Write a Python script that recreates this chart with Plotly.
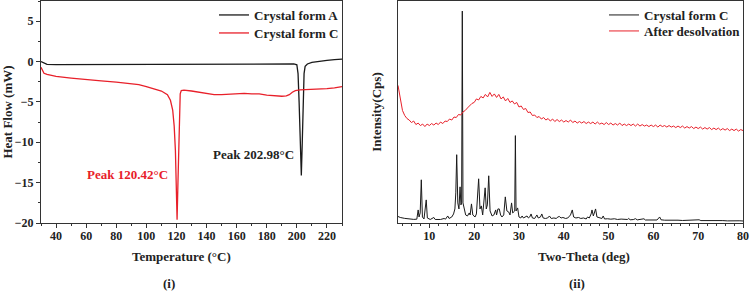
import plotly.graph_objects as go

# ---------------- DSC data (panel i) ----------------
dsc_temp_a = [30, 31, 32, 34, 40, 60, 80, 100, 130, 150, 170, 190, 198, 200, 200.8, 201.5, 202.2,
              202.98, 203.6, 204.2, 204.8, 205.5, 207, 210, 215, 220, 225, 230]
dsc_heat_a = [0.0, -0.1, -0.25, -0.35, -0.38, -0.38, -0.37, -0.35, -0.33, -0.3, -0.3, -0.3, -0.3, -0.4,
              -1.5, -5.0, -10.0, -14.1, -10.0, -5.0, -1.5, -0.6, -0.3, -0.1, 0.05, 0.15, 0.25, 0.3]

dsc_temp_c = [30, 31, 32, 34, 37, 40, 50, 60, 70, 80, 90, 95, 100, 105, 110, 114, 116, 117.5, 118.5,
              119.3, 119.9, 120.42, 121, 121.5, 122, 122.5, 123.2, 125, 130, 135, 140, 145, 150, 155,
              160, 165, 170, 175, 180, 185, 190, 193, 195, 197, 199, 202, 210, 220, 225, 230]
dsc_heat_c = [-0.7, -1.2, -1.45, -1.6, -1.75, -1.85, -2.05, -2.25, -2.4, -2.55, -2.7, -2.85, -3.1,
              -3.35, -3.65, -4.1, -4.8, -6.0, -8.0, -11.0, -15.0, -19.6, -15.0, -10.0, -6.0, -4.0,
              -3.6, -3.55, -3.65, -3.8, -4.0, -4.1, -4.1, -4.05, -3.95, -3.95, -4.0, -4.0, -4.15,
              -4.25, -4.3, -4.25, -4.1, -3.8, -3.6, -3.5, -3.45, -3.35, -3.25, -3.1]

# ---------------- XRD data (panel ii) ----------------
xrd_theta_c = [3.0, 3.5, 4.5, 5.5, 6.5, 7.2, 7.5, 7.7, 7.95, 8.2, 8.45, 8.8, 9.3, 9.55, 10.2, 11.0, 11.3,
               12.5, 13.3, 13.6, 14.1, 14.4, 15.0, 15.4, 15.7, 15.9, 16.1, 16.35, 16.6, 16.85, 17.05,
               17.2, 17.35, 17.5, 17.8, 18.1, 18.5, 18.9, 19.1, 19.4, 19.7, 20.2, 20.5, 20.8, 21.0,
               21.3, 21.6, 21.9, 22.2, 22.45, 22.7, 22.95, 23.25, 23.55, 24.0, 24.4, 24.8, 25.0, 25.3,
               25.6, 25.9, 26.2, 26.6, 26.95, 27.3, 27.7, 28.0, 28.35, 28.6, 28.9, 29.05, 29.2, 29.35,
               29.7, 30.0, 30.4, 30.7, 31.0, 31.4, 31.8, 32.1, 32.4, 32.7, 33.0, 33.5, 34.0, 34.3,
               34.8, 35.1, 35.4, 35.9, 36.4, 36.8, 37.2, 37.8, 38.3, 38.7, 39.0, 39.4, 39.8, 40.4,
               40.9, 41.5, 41.9, 42.2, 42.7, 43.3, 43.8, 44.4, 45.0, 45.3, 45.7, 46.1, 46.3, 46.6,
               46.9, 47.1, 47.4, 48.0, 48.5, 48.8, 49.1, 49.8, 50.5, 51.3, 52.0, 52.8, 53.5, 54.2,
               54.5, 54.8, 55.5, 56.0, 56.4, 57.0, 57.9, 58.2, 59.0, 60.0, 60.8, 61.4, 61.7, 62.5,
               63.5, 64.5, 65.5, 66.5, 67.5, 68.2, 69.0, 70.2, 70.6, 71.5, 72.5, 73.5, 74.5, 75.5,
               76.5, 77.5, 78.5, 79.3, 80.0]
xrd_int_c = [6.5, 5.5, 4.6, 4.0, 3.6, 3.8, 13, 6, 10, 43, 6, 4, 23, 5, 3.5, 5.5, 3.5,
             3.5, 4.5, 3.8, 7, 4.5, 6, 9, 14, 30, 68, 20, 14, 36, 18,
             20, 211, 20, 15, 8, 7, 10, 8, 19, 8, 6, 9, 30, 44,
             14, 17, 8, 20, 35, 14, 18, 47, 12, 7, 8, 13, 8, 14,
             14, 8, 6, 8, 26, 12, 11, 8, 20, 10, 12, 12, 87, 12,
             15, 6, 5, 7, 5, 6, 7, 5, 6, 9, 5, 4.5, 8, 5,
             6, 9, 5, 4.5, 5, 7, 4.5, 5, 4.5, 6, 6.5, 5, 5.5, 4.5,
             5, 8, 13, 6, 5, 5.5, 4.5, 5, 4, 6, 5, 9, 13, 7,
             12, 14, 6, 5, 4.5, 7, 4, 4.2, 3.8, 4.2, 3.5, 3.9, 3.4, 3.5,
             4.5, 3.2, 3.4, 4.3, 3.1, 3.3, 4.2, 3.0, 3.2, 2.8, 3.0, 6, 3.2, 2.8,
             3.0, 2.6, 2.8, 2.5, 2.7, 2.4, 2.6, 3.2, 2.4, 2.5, 2.3, 2.5, 2.2, 2.4,
             2.1, 2.3, 2.0, 2.2, 2.0]

xrd_theta_d = [3.0 + 0.5 * i for i in range(155)]
xrd_int_d = [137, 124, 112, 107, 104, 102.5, 100, 101.5, 98, 99.5, 97, 98.5, 96, 98.5, 97, 99,
             97.5, 99.5, 98, 100.5, 99, 101.5, 101, 103.5, 102.5, 105.5, 105, 108, 107.5, 110.5,
             112, 114.5, 116.5, 119, 120, 123.5, 122.5, 126, 124.5, 128, 125.5, 130, 126, 128.5,
             125, 128, 123.5, 125.5, 121.5, 124, 120, 121.5, 118.5, 120, 115.5, 116.5, 113, 114,
             110, 110.5, 107, 107.5, 105, 106, 103.5, 105, 102.5, 104, 101.5, 103.5, 101, 103,
             101, 102.5, 100.5, 102, 100.5, 102.5, 100, 101.5, 99.5, 101, 99.5, 101, 99, 100.5,
             99, 100.5, 98.5, 100.5, 98.5, 99.5, 98, 100, 98, 99.5, 97.5, 99, 97.5, 99.5, 97,
             98.5, 97, 98.5, 97, 98.5, 96.5, 98.5, 96.5, 98, 96.5, 97.5, 96, 97.5, 96, 97.5,
             95.5, 97.5, 96, 97, 95.5, 97, 95.5, 96.5, 95, 96.5, 95, 96.5, 94.5, 96, 94.5, 96,
             94, 95.5, 94, 95.5, 93.5, 95, 93.5, 95, 93, 94.5, 93, 94.5, 92.5, 94, 92.5, 94, 92,
             93.5, 92, 93.5, 91.5, 93, 92]

FONT = "Liberation Serif"
BLACK = "#1a1a1a"
RED = "#e8202a"

fig = go.Figure()
fig.add_trace(go.Scatter(x=dsc_temp_a, y=dsc_heat_a, mode="lines", name="Crystal form A",
                         line=dict(color=BLACK, width=1.3), xaxis="x", yaxis="y", legend="legend"))
fig.add_trace(go.Scatter(x=dsc_temp_c, y=dsc_heat_c, mode="lines", name="Crystal form C",
                         line=dict(color=RED, width=1.3), xaxis="x", yaxis="y", legend="legend3"))
fig.add_trace(go.Scatter(x=xrd_theta_c, y=xrd_int_c, mode="lines", name="Crystal form C",
                         line=dict(color=BLACK, width=1), xaxis="x2", yaxis="y2", legend="legend2"))
fig.add_trace(go.Scatter(x=xrd_theta_d, y=xrd_int_d, mode="lines", name="After desolvation",
                         line=dict(color=RED, width=1), xaxis="x2", yaxis="y2", legend="legend4"))

tickfont = dict(family=FONT, size=12, color="#222", weight="bold")
titlefont = dict(family=FONT, size=13, color="#222", weight="bold")
axis_common = dict(showline=True, linecolor="#333", linewidth=1, mirror=True, showgrid=False,
                   zeroline=False, tickfont=tickfont, ticks="outside", ticklen=4, tickcolor="#333",
                   automargin=False)
legfont = dict(family=FONT, size=13, color="#222", weight="bold")


def leg(xpx, ycenter_px):
    return dict(x=xpx / 750, y=1 - (ycenter_px - 12) / 293, xanchor="left", yanchor="top",
                bgcolor="rgba(0,0,0,0)", font=legfont, tracegroupgap=0)


def paper_text(text, xpx, ypx, color="#222"):
    return dict(x=xpx / 750, y=1 - ypx / 293, xref="paper", yref="paper", text=text,
                showarrow=False, xanchor="center", yanchor="middle",
                font=dict(family=FONT, size=13, color=color, weight="bold"))


fig.update_layout(
    width=750, height=293, autosize=False,
    margin=dict(l=0, r=0, t=0, b=0, autoexpand=False),
    paper_bgcolor="white", plot_bgcolor="white",
    showlegend=True,
    xaxis=dict(domain=[41 / 750, 342 / 750], range=[30, 230], tickvals=list(range(40, 221, 20)),
               minor=dict(dtick=10, ticks="outside", ticklen=2, tickcolor="#333"),
               ticklabelstandoff=-2,
               anchor="y", **axis_common),
    yaxis=dict(domain=[70 / 293, 292 / 293], range=[-20, 7.5], tickvals=[-20, -15, -10, -5, 0, 5],
               minor=dict(dtick=2.5, ticks="outside", ticklen=2, tickcolor="#333"),
               title=dict(text="Heat Flow (mW)", font=titlefont, standoff=10),
               anchor="x", **axis_common),
    xaxis2=dict(domain=[398 / 750, 743 / 750], range=[3, 80], tickvals=list(range(10, 81, 10)),
                minor=dict(dtick=2, ticks="outside", ticklen=2, tickcolor="#333"),
                ticklabelstandoff=-2,
                anchor="y2", **axis_common),
    yaxis2=dict(domain=[70 / 293, 292 / 293], range=[0, 221], showticklabels=False,
                title=dict(text="Intensity(Cps)", font=titlefont, standoff=12),
                anchor="x2", showline=True, linecolor="#333", linewidth=1, mirror=True,
                showgrid=False, zeroline=False, ticks="", automargin=False),
    legend=leg(214, 12),
    legend3=leg(214, 30),
    legend2=leg(604, 12),
    legend4=leg(604, 28),
    annotations=[
        dict(x=171, y=-11.5, xref="x", yref="y", text="Peak 202.98°C", showarrow=False,
             font=dict(family=FONT, size=13, color="#222", weight="bold")),
        dict(x=87.6, y=-14.0, xref="x", yref="y", text="Peak 120.42°C", showarrow=False,
             font=dict(family=FONT, size=13, color=RED, weight="bold")),
        paper_text("Temperature (°C)", 181, 256),
        paper_text("Two-Theta (deg)", 584, 256),
        paper_text("(i)", 169, 283),
        paper_text("(ii)", 577, 283),
    ],
)

fig.write_html("out.html", config={"displayModeBar": False},
               post_script="document.body.style.margin='0px';")
